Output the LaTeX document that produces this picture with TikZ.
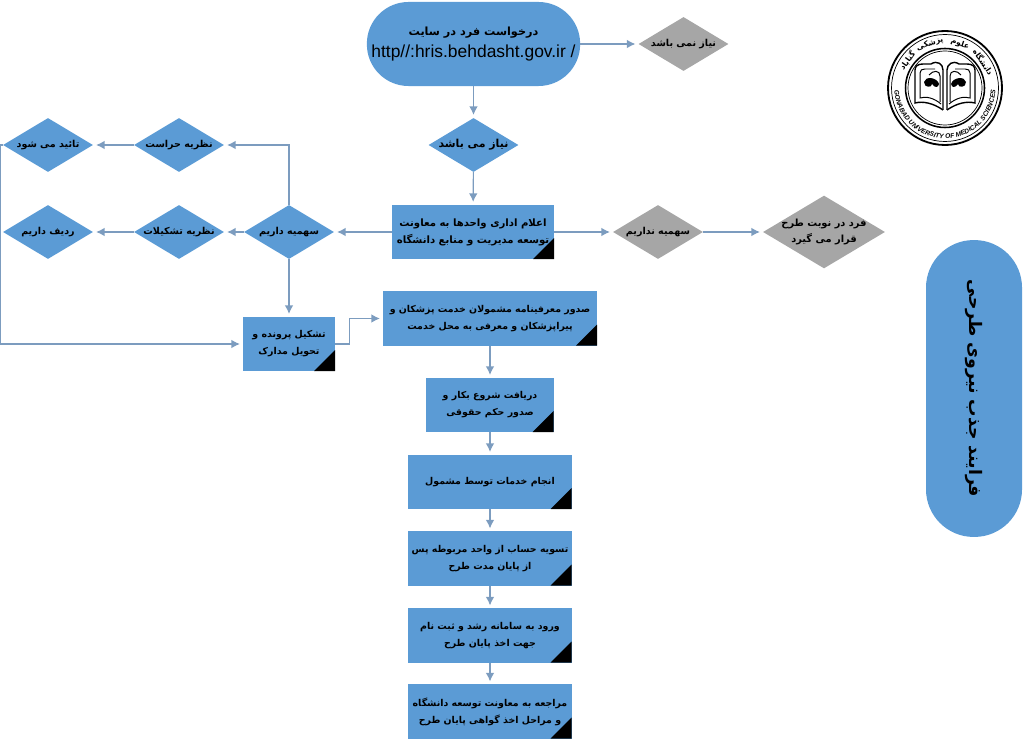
\documentclass[tikz,border=0pt]{standalone}
\usepackage{fontspec}
\setmainfont{Liberation Sans}
\newfontfamily\arabicfont[Script=Arabic]{DejaVu Sans}
\TeXXeTstate=1
\usetikzlibrary{positioning}
\usetikzlibrary{arrows.meta}
\usetikzlibrary{shapes.geometric,shapes.misc}
\usetikzlibrary{decorations.text}
\definecolor{flowblue}{HTML}{5B9BD5}
\definecolor{flowgray}{HTML}{A6A6A6}
\definecolor{flowline}{HTML}{7C9CBF}
\newcommand{\fa}[1]{{\arabicfont\bfseries\beginR #1\endR}}
\tikzset{
  flowbox/.style={rectangle,fill=flowblue,minimum height=1.35cm,inner sep=0pt,align=center,font=\fontsize{6.7}{12}\selectfont,
    path picture={\fill[black] (path picture bounding box.south east) -- ++(-21,0) -- ++(21,-21) -- cycle;}},
  choice/.style={diamond,aspect=1.67,fill=flowblue,minimum width=2.25cm,minimum height=1.35cm,inner sep=-9pt,align=center,font=\fontsize{6.8}{11}\selectfont},
  greychoice/.style={choice,fill=flowgray},
  pill/.style={rectangle,fill=flowblue,inner sep=0pt,align=center},
  flowarrow/.style={draw=flowline,line width=.8pt,-{Latex[length=6pt,width=6pt]},shorten >=2pt}
}
\begin{document}
\begin{tikzpicture}[x=.025cm,y=-.025cm]
  \useasboundingbox (0,0) rectangle (1024,741);

  \node[pill,rounded corners=1.04cm,minimum width=5.33cm,minimum height=2.1cm,font=\fontsize{8}{15}\selectfont] (request) at (473.5,44) {\fa{درخواست فرد در سایت}\\ {\fontsize{12.4}{15}\selectfont http//:hris.behdasht.gov.ir /}};
  \node[greychoice] (noneed) at (683.5,44) {\fa{نیاز نمی باشد}};
  \node[choice,font=\fontsize{7.8}{11}\selectfont] (need) at (473.5,145) {\fa{نیاز می باشد}};
  \node[flowbox,minimum width=4.05cm,font=\fontsize{7.2}{12}\selectfont] (notice) at (473,232) {\fa{اعلام اداری واحدها به معاونت}\\ \fa{توسعه مدیریت و منابع دانشگاه}};
  \node[greychoice] (noquota) at (658,232) {\fa{سهمیه نداریم}};
  \node[greychoice,minimum width=3.05cm,minimum height=1.82cm,font=\fontsize{7}{12}\selectfont] (queue) at (824,232) {\fa{فرد در نوبت طرح}\\ \fa{قرار می گیرد}};
  \node[choice] (quota) at (289,232) {\fa{سهمیه داریم}};
  \node[choice] (staffing) at (179,232) {\fa{نظریه تشکیلات}};
  \node[choice] (post) at (48,232) {\fa{ردیف داریم}};
  \node[choice] (security) at (179,145) {\fa{نظریه حراست}};
  \node[choice] (approved) at (48,145) {\fa{تائید می شود}};
  \node[flowbox,minimum width=2.3cm] (dossier) at (289,344) {\fa{تشکیل پرونده و}\\ \fa{تحویل مدارک}};
  \node[flowbox,minimum width=5.35cm] (intro) at (490,318.5) {\fa{صدور معرفینامه مشمولان خدمت پزشکان و}\\ \fa{پیراپزشکان و معرفی به محل خدمت}};
  \node[flowbox,minimum width=3.18cm] (start) at (490,405) {\fa{دریافت شروع بکار و}\\ \fa{صدور حکم حقوقی}};
  \node[flowbox,minimum width=4.08cm] (service) at (490,482) {\fa{انجام خدمات توسط مشمول}};
  \node[flowbox,minimum width=4.08cm] (settle) at (490,558.5) {\fa{تسویه حساب از واحد مربوطه پس}\\ \fa{از پایان مدت طرح}};
  \node[flowbox,minimum width=4.08cm] (register) at (490,635.5) {\fa{ورود به سامانه رشد و ثبت نام}\\ \fa{جهت اخذ پایان طرح}};
  \node[flowbox,minimum width=4.08cm] (finish) at (490,711.5) {\fa{مراجعه به معاونت توسعه دانشگاه}\\ \fa{و مراحل اخذ گواهی پایان طرح}};
  \node[pill,rounded corners=1.19cm,minimum width=2.4cm,minimum height=7.42cm] (titlebar) at (974,388.5) {};
  \node[rotate=-90,font=\fontsize{12.3}{18}\selectfont] (titletext) at (974,388.5) {\fa{فرایند جذب نیروی طرحی}};

  \foreach \a/\b in {request/noneed,request/need,need/notice,notice/quota,notice/noquota,noquota/queue,quota/staffing,staffing/post,security/approved,quota/dossier,intro/start,start/service,service/settle,settle/register,register/finish}
    \draw[flowarrow] (\a) -- (\b);
  \draw[flowarrow] (quota.north) |- (security.east);
  \draw[flowarrow] (approved.west) -- ++(-2,0) |- (dossier.west);
  \draw[flowarrow] (dossier.east) -- ++(14,0) |- (intro.west);

  \begin{scope}[shift={(945,88)},y=.025cm]
    \draw[line width=1.3pt] (0,0) circle (57);
    \draw[line width=.5pt] (0,0) circle (53.5);
    \draw[line width=1.1pt] (0,0) circle (39.5);
    \draw[line width=.5pt] (0,0) circle (37);
    \path[decorate,decoration={text along path,text align=center,text={|\fontsize{4.7}{6}\selectfont\bfseries\itshape|GONABAD UNIVERSITY OF MEDICAL SCIENCES}}] (165:50.5) arc (165:375:50.5);
    \foreach \n/\w/\ang in {a/دانشگاه/34,b/علوم/71,c/پزشکی/109,d/گناباد/144}
      \node[rotate=\ang-90,font=\fontsize{5.5}{7}\selectfont,inner sep=0pt] (logo\n) at (\ang:46.5) {\fa{\w}};
    \foreach \s in {1,-1} {
      \draw[line width=1pt] (\s*2,-22) .. controls (\s*12,-15) and (\s*22,-13) .. (\s*30,-15) -- (\s*30,18) .. controls (\s*30,22) and (\s*27,24) .. (\s*22,24) -- (\s*14,24);
      \draw[line width=.7pt] (\s*4,-16) .. controls (\s*11,-10) and (\s*19,-8) .. (\s*25,-10) -- (\s*25,15) .. controls (\s*25,18) and (\s*23,19) .. (\s*20,19) -- (\s*10,19);
      \draw[line width=1pt] (\s*2,-22) -- (\s*2,18) .. controls (\s*2,24) and (\s*8,28) .. (\s*14,24);
      \draw[line width=.7pt] (\s*5,-14) -- (\s*5,12) .. controls (\s*5,18) and (\s*12,18) .. (\s*16,13);
      \fill (\s*6,4) .. controls (\s*8,11) and (\s*20,12) .. (\s*21,6) .. controls (\s*21,0) and (\s*13,0) .. (\s*13,4) .. controls (\s*10,0) and (\s*7,0) .. (\s*6,4) -- cycle;
    }
  \end{scope}
\end{tikzpicture}
\end{document}
